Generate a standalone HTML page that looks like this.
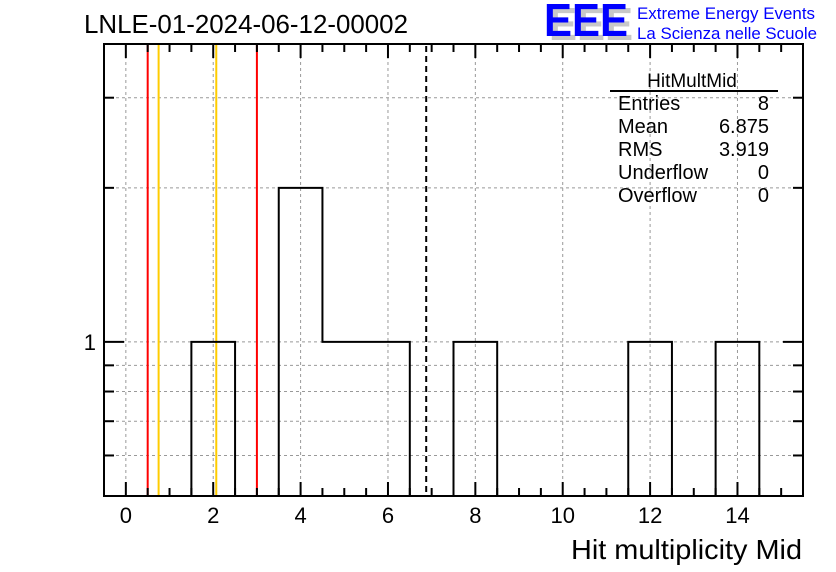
<!DOCTYPE html>
<html><head><meta charset="utf-8"><style>
body{margin:0;background:#fff;}
svg{display:block;font-family:"Liberation Sans",sans-serif;}
</style></head><body>
<svg id="c" width="836" height="572">
<rect width="836" height="572" fill="#fff"/>
<g id="grid"></g>
<g id="lines"></g>
<g id="hist"></g>
<g id="axes"></g>
<text x="84" y="33" font-size="26" textLength="324" lengthAdjust="spacingAndGlyphs">LNLE-01-2024-06-12-00002</text>
<g>
<text x="549" y="40" font-size="46" font-weight="bold" fill="#c8c8c8" textLength="84" lengthAdjust="spacingAndGlyphs">EEE</text>
<text x="544" y="36" font-size="46" font-weight="bold" fill="#0000ff" textLength="84" lengthAdjust="spacingAndGlyphs">EEE</text>
<text x="637" y="19" font-size="17" fill="#0000ff" textLength="178" lengthAdjust="spacingAndGlyphs">Extreme Energy Events</text>
<text x="637" y="39" font-size="17" fill="#0000ff" textLength="180" lengthAdjust="spacingAndGlyphs">La Scienza nelle Scuole</text>
</g>
<g font-size="20">
<text x="692" y="87" text-anchor="middle" font-size="19">HitMultMid</text>
<line x1="610" y1="91" x2="778" y2="91" stroke="#000" stroke-width="2"/>
<text x="618" y="110">Entries</text><text x="769" y="110" text-anchor="end">8</text>
<text x="618" y="133">Mean</text><text x="769" y="133" text-anchor="end">6.875</text>
<text x="618" y="156">RMS</text><text x="769" y="156" text-anchor="end">3.919</text>
<text x="618" y="179">Underflow</text><text x="769" y="179" text-anchor="end">0</text>
<text x="618" y="202">Overflow</text><text x="769" y="202" text-anchor="end">0</text>
</g>
<text x="802" y="559" font-size="28" text-anchor="end" textLength="231" lengthAdjust="spacingAndGlyphs">Hit multiplicity Mid</text>
</svg>
<script>
const binCenters=[0,1,2,3,4,5,6,7,8,9,10,11,12,13,14,15];
const binCounts=[0,0,1,0,2,1,1,0,1,0,0,0,1,0,1,0];
const xTickLabels=["0","2","4","6","8","10","12","14"];
const yTickLabels=["1"];
const redLines=[0.5,3.0];
const orangeLines=[0.75,2.07];
const meanValue=6.875;
const X0=104,X1=803,Y0=496,Y1=44,XMIN=-0.5,XMAX=15.5,YMIN=0.5,YMAX=3.82;
const ns="http://www.w3.org/2000/svg";
function sx(v){return X0+(v-XMIN)/(XMAX-XMIN)*(X1-X0);}
function sy(v){if(v<=0)return Y0;return Y0-(Math.log10(v)-Math.log10(YMIN))/(Math.log10(YMAX)-Math.log10(YMIN))*(Y0-Y1);}
function mk(tag,at,parent){const e=document.createElementNS(ns,tag);for(const k in at)e.setAttribute(k,at[k]);document.getElementById(parent).appendChild(e);return e;}
for(let v=0;v<=14;v+=2){const l=mk('line',{x1:sx(v),x2:sx(v),y1:Y1,y2:Y0,stroke:'#999','stroke-dasharray':'3,3'},'grid');

}
const ygrid=[0.6,0.7,0.8,0.9,1,2,3];
for(const v of ygrid){const l=mk('line',{x1:X0,x2:X1,y1:sy(v),y2:sy(v),stroke:'#999','stroke-dasharray':'3,3'},'grid');

}
let d='M'+X0+','+Y0;
binCenters.forEach((c,i)=>{const y=sy(binCounts[i]);d+=' L'+sx(c-0.5)+','+y+' L'+sx(c+0.5)+','+y;});
d+=' L'+X1+','+Y0;
const h=mk('path',{d:d,fill:'none',stroke:'#000','stroke-width':2},'hist');


redLines.forEach(v=>{const l=mk('line',{x1:sx(v),x2:sx(v),y1:Y1,y2:Y0,stroke:'#ff0000','stroke-width':2},'lines');

});
orangeLines.forEach(v=>{const l=mk('line',{x1:sx(v),x2:sx(v),y1:Y1,y2:Y0,stroke:'#ffcc00','stroke-width':2},'lines');

});
const ml=mk('line',{x1:sx(meanValue),x2:sx(meanValue),y1:Y1+2,y2:Y0,stroke:'#000','stroke-width':2,'stroke-dasharray':'6,4'},'lines');


const fr=mk('rect',{x:X0,y:Y1,width:X1-X0,height:Y0-Y1,fill:'none',stroke:'#000','stroke-width':2},'axes');


for(let v=-0.5;v<=15.5;v+=0.5){const major=Math.abs(v%2)<1e-9;const len=major?14:8;
mk('line',{x1:sx(v),x2:sx(v),y1:Y0,y2:Y0-len,stroke:'#000','stroke-width':2},'axes');
mk('line',{x1:sx(v),x2:sx(v),y1:Y1,y2:Y1+len,stroke:'#000','stroke-width':2},'axes');}
xTickLabels.forEach(s=>{const t=mk('text',{x:sx(+s),y:523,'font-size':22,'text-anchor':'middle'},'axes');t.textContent=s;

});
const yt=[0.5,0.6,0.7,0.8,0.9,1,2,3];
yt.forEach(v=>{const len=v===1?20:10;
mk('line',{x1:X0,x2:X0+len,y1:sy(v),y2:sy(v),stroke:'#000','stroke-width':2},'axes');
mk('line',{x1:X1,x2:X1-len,y1:sy(v),y2:sy(v),stroke:'#000','stroke-width':2},'axes');});
yTickLabels.forEach(s=>{const t=mk('text',{x:96,y:sy(+s)+8,'font-size':22,'text-anchor':'end'},'axes');t.textContent=s;

});
</script>
</body></html>
